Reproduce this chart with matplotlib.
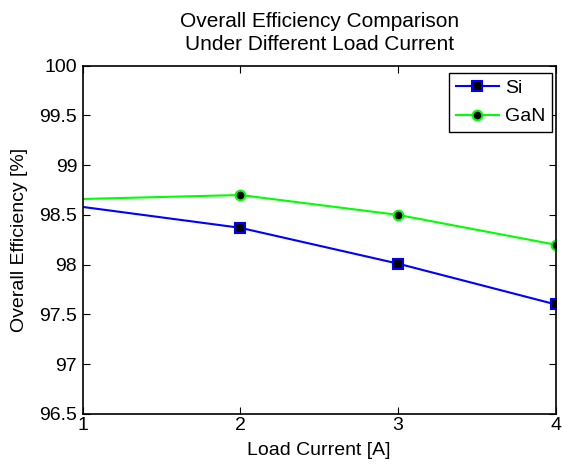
import matplotlib
matplotlib.use("Agg")
import matplotlib.pyplot as plt

plt.rcParams['font.family'] = ['Liberation Sans', 'DejaVu Sans']

load_current = [1, 2, 3, 4]
eff_si = [98.58, 98.37, 98.01, 97.60]
eff_gan = [98.66, 98.70, 98.50, 98.20]

fig = plt.figure(figsize=(5.63, 4.66), dpi=100)
ax = fig.add_axes([0.147, 0.112, 0.840, 0.747])

ax.plot(load_current, eff_si, color="#0000ff", lw=1.5, marker="s", ms=7,
        mfc="black", mec="#0000ff", mew=1.5, markevery=[1, 2, 3], label="Si")
ax.plot(load_current, eff_gan, color="#00ff00", lw=1.5, marker="o", ms=7,
        mfc="black", mec="#00ff00", mew=1.5, markevery=[1, 2, 3], label="GaN")

ax.set_xlim(1, 4)
ax.set_ylim(96.5, 100)
ax.set_xticks([1, 2, 3, 4])
ax.set_yticks([96.5, 97, 97.5, 98, 98.5, 99, 99.5, 100])
ax.set_yticklabels(["96.5", "97", "97.5", "98", "98.5", "99", "99.5", "100"])
ax.tick_params(direction="in", top=True, right=True, length=5, width=0.8,
               labelsize=14, pad=2)
ax.tick_params(axis="y", pad=4)
for s in ax.spines.values():
    s.set_linewidth(1.2)

ax.set_xlabel("Load Current [A]", fontsize=14, labelpad=6)
ax.set_ylabel("Overall Efficiency [%]", fontsize=14, labelpad=8)
ax.set_title("Overall Efficiency Comparison\nUnder Different Load Current",
             fontsize=15, pad=11, linespacing=1.3)

leg = ax.legend(loc="upper right", bbox_to_anchor=(0.992, 0.98), fontsize=14,
                fancybox=False, framealpha=1, edgecolor="black",
                handlelength=2.2, borderaxespad=0, handletextpad=0.3,
                borderpad=0.35, labelspacing=0.55)
leg.get_frame().set_linewidth(1.0)

plt.savefig("out.png", dpi=100)
